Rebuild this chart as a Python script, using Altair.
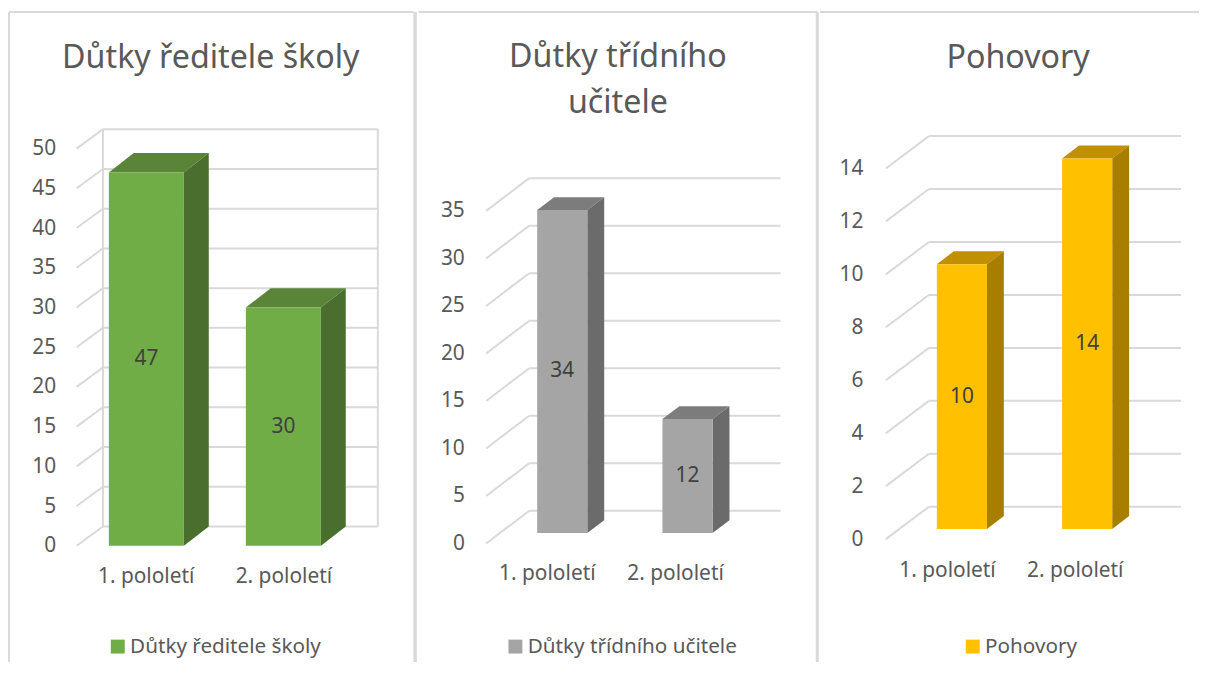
import json
import altair as alt
import pandas as pd

CATEGORIES = ["1. pololetí", "2. pololetí"]

NAMES = ["Důtky ředitele školy", "Důtky třídního učitele", "Pohovory"]
TITLES = [["Důtky ředitele školy"], ["Důtky třídního", "učitele"], ["Pohovory"]]
VALUES_1 = [47, 30]
VALUES_2 = [34, 12]
VALUES_3 = [10, 14]
TICKS_1 = [0, 5, 10, 15, 20, 25, 30, 35, 40, 45, 50]
TICKS_2 = [0, 5, 10, 15, 20, 25, 30, 35]
TICKS_3 = [0, 2, 4, 6, 8, 10, 12, 14]

FONT = "Noto Sans"
TEXT = "#595959"
LABEL = "#404040"
GRID = "#d9d9d9"
VIEW_TOP, VIEW_BOTTOM = 8, 664
SIZE = 21


def panel(name, title, values, ticks, colors, g):
    front, side, top = colors
    k = g["k"]
    x_of = lambda px: (px - g["c0"]) / g["step"]
    val = lambda dpx: dpx / k
    half = g["bw"] / 2 / g["step"]
    bdx = g["bar_dx"] / g["step"]
    bdy = val(g["bar_dy"])
    base = val(g["base"])
    fdy = val(g["floor_dy"])
    xdom = [x_of(g["left"]), x_of(g["right"])]
    ydom = [(g["y0"] - VIEW_BOTTOM) / k, (g["y0"] - VIEW_TOP) / k]
    xs = alt.Scale(domain=xdom, nice=False, zero=False)
    ys = alt.Scale(domain=ydom, nice=False, zero=False)
    wl, wr, fx = x_of(g["wall_l"]), x_of(g["wall_r"]), x_of(g["floor_x"])

    rows = []
    for t in ticks:
        rows.append(dict(x=wl, x2=wr, y=t + fdy, y2=t + fdy))
        rows.append(dict(x=fx, x2=wl, y=t, y2=t + fdy))
    if g["walls"]:
        for w in (wl, wr):
            rows.append(dict(x=w, x2=w, y=fdy, y2=ticks[-1] + fdy))
    grid_df = pd.DataFrame(rows)

    bars, sides, tops, labels = [], [], [], []
    for i, (cat, v) in enumerate(zip(CATEGORIES, values)):
        l, r = i - half, i + half
        b, t = base, base + v
        bars.append(dict(series=name, x=l, x2=r, y=b, y2=t))
        sides += [dict(bar=i, x=r, y=t, y2=b), dict(bar=i, x=r + bdx, y=t + bdy, y2=b + bdy)]
        tops += [
            dict(bar=i, x=l, y=t, y2=t),
            dict(bar=i, x=l + bdx, y=t + bdy, y2=t),
            dict(bar=i, x=r, y=t + bdy, y2=t),
            dict(bar=i, x=r + bdx, y=t + bdy, y2=t + bdy),
        ]
        labels.append(dict(x=float(i), y=base + v / 2, t=str(v)))

    xlabel_vals = [x_of(p) for p in g["xlabels"]]
    label_expr = f"datum.value < {(xlabel_vals[0] + xlabel_vals[1]) / 2} ? {json.dumps(CATEGORIES[0], ensure_ascii=False)} : {json.dumps(CATEGORIES[1], ensure_ascii=False)}"

    grid = (
        alt.Chart(grid_df)
        .mark_rule(color=GRID, strokeWidth=2)
        .encode(
            x=alt.X(
                "x:Q",
                scale=xs,
                axis=alt.Axis(
                    values=xlabel_vals, labelExpr=label_expr, domain=False, ticks=False, grid=False,
                    title=None, orient="bottom", offset=-(VIEW_BOTTOM - g["xlabel_y"]), labelPadding=0,
                    labelBaseline="middle", labelFont=FONT, labelFontSize=SIZE, labelColor=TEXT,
                    labelOverlap=False, labelFlush=False,
                ),
            ),
            x2="x2:Q",
            y=alt.Y(
                "y:Q",
                scale=ys,
                axis=alt.Axis(
                    values=ticks, domain=False, ticks=False, grid=False, title=None, orient="left",
                    offset=-(g["axis_right"] - g["left"]), labelPadding=0, labelFont=FONT,
                    labelFontSize=SIZE, labelColor=TEXT, labelOverlap=False, labelFlush=False,
                    format="d",
                ),
            ),
            y2="y2:Q",
        )
    )

    def face(rows_, color):
        return (
            alt.Chart(pd.DataFrame(rows_))
            .mark_area(color=color, interpolate="linear")
            .encode(
                x=alt.X("x:Q", scale=xs, axis=None),
                y=alt.Y("y:Q", scale=ys, axis=None, stack=None),
                y2="y2:Q",
                detail="bar:N",
            )
        )

    front_layer = (
        alt.Chart(pd.DataFrame(bars))
        .mark_bar()
        .encode(
            x=alt.X("x:Q", scale=xs, axis=None),
            x2="x2:Q",
            y=alt.Y("y:Q", scale=ys, axis=None, stack=None),
            y2="y2:Q",
            color=alt.Color(
                "series:N",
                scale=alt.Scale(domain=[name], range=[front]),
                legend=alt.Legend(
                    title=None, orient="none", legendX=g["legend_x"] - g["left"],
                    legendY=g["legend_y"] - VIEW_TOP, symbolType="square", symbolSize=196,
                    symbolStrokeWidth=0, labelFont=FONT, labelFontSize=20.8, labelColor=TEXT,
                    labelOffset=2, labelLimit=400, padding=0,
                ),
            ),
        )
    )
    text = (
        alt.Chart(pd.DataFrame(labels))
        .mark_text(font=FONT, fontSize=SIZE, color=LABEL, baseline="middle", align="center")
        .encode(x=alt.X("x:Q", scale=xs, axis=None), y=alt.Y("y:Q", scale=ys, axis=None), text="t:N")
    )

    one = alt.Data(values=[{}])
    frame_layers = [
        alt.Chart(one).mark_rule(color=GRID, strokeWidth=sw).encode(
            x=alt.value(px - g["left"]),
            y=alt.value(g["frame_top"] - VIEW_TOP),
            y2=alt.value(VIEW_BOTTOM - VIEW_TOP),
        )
        for px, sw in g["frames"]
    ]
    frame_layers.append(
        alt.Chart(one).mark_rule(color=GRID, strokeWidth=2).encode(
            x=alt.value(g["top_from"] - g["left"]),
            x2=alt.value(g["right"] - g["left"]),
            y=alt.value(g["frame_top"] - VIEW_TOP),
        )
    )

    return (
        alt.layer(grid, face(tops, top), face(sides, side), front_layer, text, *frame_layers)
        .resolve_axis(x="independent", y="independent")
        .properties(
            width=g["right"] - g["left"],
            height=VIEW_BOTTOM - VIEW_TOP,
            title=alt.TitleParams(
                text=title, anchor="middle", orient="top", offset=-g["title_off"], dx=g["title_dx"],
                font=FONT, fontSize=32.4, fontWeight="normal", color=TEXT, lineHeight=46,
            ),
        )
    )


GEOM_1 = dict(left=8, right=416, c0=147.2, step=137.8, bw=75.5, bar_dx=25, bar_dy=19.45, base=0,
              k=7.99, y0=547, wall_l=103.5, wall_r=380, floor_x=77, floor_dy=19.45, walls=True,
              xlabels=[146.5, 285], xlabel_y=578, axis_right=56, legend_x=108, legend_y=638,
              title_off=65, title_dx=0, frames=[(9, 2), (417.5, 3.5)], top_from=9, frame_top=10)
GEOM_2 = dict(left=416, right=817, c0=560.5, step=126, bw=50.4, bar_dx=17, bar_dy=12.8, base=10.5,
              k=9.558, y0=544.7, wall_l=527.3, wall_r=780, floor_x=484, floor_dy=32.95, walls=False,
              xlabels=[545, 674], xlabel_y=575, axis_right=462, legend_x=503, legend_y=638,
              title_off=110, title_dx=0, frames=[(817, 3)], top_from=416, frame_top=10)
GEOM_3 = dict(left=817, right=1198, c0=959.5, step=126, bw=50.4, bar_dx=17, bar_dy=13.1, base=10.1,
              k=26.63, y0=540.3, wall_l=926.3, wall_r=1180, floor_x=883, floor_dy=32.55, walls=False,
              xlabels=[944.5, 1073], xlabel_y=572, axis_right=860, legend_x=960, legend_y=638,
              title_off=65, title_dx=8.5, frames=[], top_from=817, frame_top=10)

p1 = panel(NAMES[0], TITLES[0], VALUES_1, TICKS_1, ("#70AD47", "#4A6E2E", "#5A8438"), GEOM_1)
p2 = panel(NAMES[1], TITLES[1], VALUES_2, TICKS_2, ("#A5A5A5", "#6B6B6B", "#7C7C7C"), GEOM_2)
p3 = panel(NAMES[2], TITLES[2], VALUES_3, TICKS_3, ("#FFC000", "#A87E00", "#C09000"), GEOM_3)

chart = (
    alt.hconcat(p1, p2, p3, spacing=0, padding=0)
    .resolve_scale(color="independent")
    .configure_view(stroke=None)
)
chart.save("out.html", embed_options={"renderer": "svg", "actions": False})
